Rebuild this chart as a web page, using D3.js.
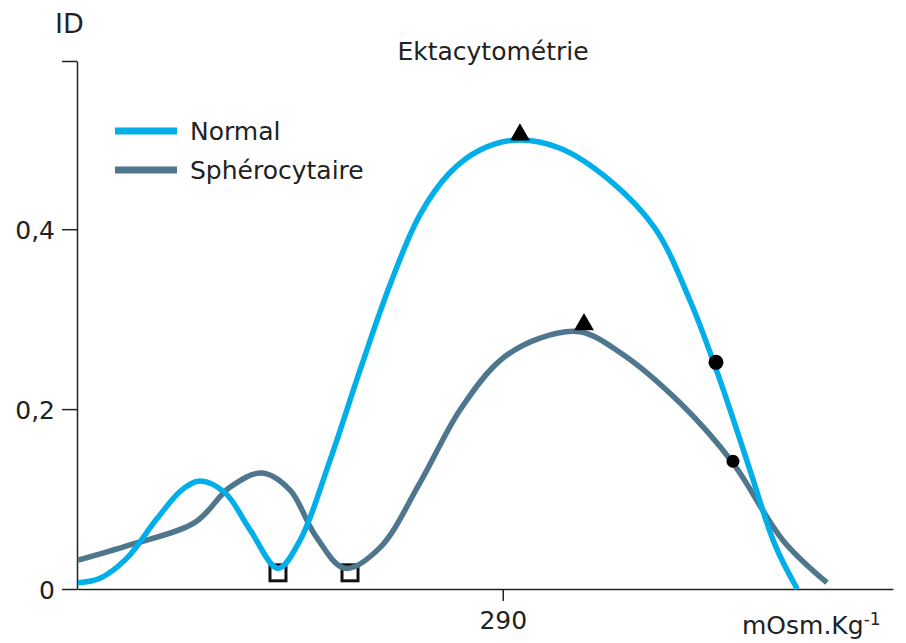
<!DOCTYPE html>
<html>
<head>
<meta charset="utf-8">
<script src="https://cdn.jsdelivr.net/npm/d3@7"></script>
<style>
  body { margin: 0; background: #fff; }
  text { font-family: "DejaVu Sans", sans-serif; fill: #222; }
</style>
</head>
<body>
<div id="chart"></div>
<script>
// data (x in mOsm/kg, y = ID)
var normalX = [50.6, 63, 78, 95, 109, 119.3, 133.4, 147.5, 163.3, 175.7, 192.6, 209.5, 226.4, 243.3, 260.3, 277.2, 296.9, 322.3, 350.5, 375.8, 395.5, 412.5, 429.4, 443.5, 456];
var normalY = [0.007, 0.012, 0.034, 0.078, 0.11, 0.12, 0.107, 0.066, 0.023, 0.054, 0.143, 0.243, 0.338, 0.416, 0.463, 0.488, 0.499, 0.49, 0.454, 0.401, 0.321, 0.232, 0.132, 0.049, 0];

var spheroX = [50.6, 79.9, 116.5, 136.2, 154.3, 170.1, 184.2, 201.1, 220.8, 243.3, 265.9, 288.4, 311, 333.5, 356.1, 389.9, 419.8, 448, 472.8];
var spheroY = [0.032, 0.049, 0.074, 0.113, 0.129, 0.11, 0.06, 0.023, 0.046, 0.118, 0.199, 0.254, 0.279, 0.286, 0.263, 0.207, 0.14, 0.054, 0.007];

// markers
var squareX = [163.3, 203.9], squareY = [0.018, 0.018];
var triX = [299.7, 335.8], triY = [0.505, 0.294];
var dotX = [410.2, 419.8], dotY = [0.252, 0.142], dotR = [7.5, 6.5];

var yTicks = [0, 0.2, 0.4];
var xTicks = [290];
var seriesNames = ["Normal", "Sphérocytaire"];
var colors = ["#00aeea", "#4e768c"];

var width = 906, height = 643;

var svg = d3.select("#chart")
    .append("svg")
    .attr("width", width)
    .attr("height", height);

var x = d3.scaleLinear().domain([50, 510]).range([77, 893]);
var y = d3.scaleLinear().domain([0, 0.587]).range([589, 61]);

var fmt = function(d){ return d === 0 ? "0" : String(d).replace(".", ","); };

// y axis
var yAxis = svg.append("g")
    .attr("transform", "translate(" + x(50) + ",0)")
    .call(d3.axisLeft(y).tickValues(yTicks.concat([0.587])).tickSize(15).tickSizeOuter(0)
        .tickFormat(function(d){ return d > 0.5 ? "" : fmt(d); }));
yAxis.select(".domain").attr("stroke", "#222").attr("stroke-width", 1.5);
yAxis.selectAll(".tick line").attr("stroke", "#222").attr("stroke-width", 1.5);
yAxis.selectAll(".tick text").attr("x", -22).attr("dy", "0.36em")
    .style("font-size", "25px").style("font-family", "DejaVu Sans");

// x axis
var xAxis = svg.append("g")
    .attr("transform", "translate(0," + y(0) + ")")
    .call(d3.axisBottom(x).tickValues(xTicks).tickSize(12).tickSizeOuter(0));
xAxis.select(".domain").attr("stroke", "#222").attr("stroke-width", 1.5);
xAxis.selectAll(".tick line").attr("stroke", "#222").attr("stroke-width", 1.5);
xAxis.selectAll(".tick text").attr("y", 22).attr("dy", "0.71em")
    .style("font-size", "25px").style("font-family", "DejaVu Sans");

// open squares sit under the curves
svg.selectAll(".sq")
    .data(squareX)
    .enter().append("rect")
    .attr("x", function(d){ return x(d) - 8; })
    .attr("y", function(d, i){ return y(squareY[i]) - 8; })
    .attr("width", 16)
    .attr("height", 16)
    .attr("fill", "#fff")
    .attr("stroke", "#111")
    .attr("stroke-width", 3);

var line = d3.line()
    .x(function(d){ return x(d[0]); })
    .y(function(d){ return y(d[1]); })
    .curve(d3.curveCatmullRom.alpha(0.5));

svg.append("path")
    .datum(d3.zip(spheroX, spheroY))
    .attr("d", line)
    .attr("fill", "none")
    .attr("stroke", colors[1])
    .attr("stroke-width", 5.5);

svg.append("path")
    .datum(d3.zip(normalX, normalY))
    .attr("d", line)
    .attr("fill", "none")
    .attr("stroke", colors[0])
    .attr("stroke-width", 5.5);

// triangles and dots
svg.selectAll(".tri")
    .data(triX)
    .enter().append("path")
    .attr("transform", function(d, i){ return "translate(" + x(d) + "," + y(triY[i]) + ")"; })
    .attr("d", d3.symbol().type(d3.symbolTriangle).size(170))
    .attr("fill", "#000");

svg.selectAll(".dot")
    .data(dotX)
    .enter().append("circle")
    .attr("cx", function(d){ return x(d); })
    .attr("cy", function(d, i){ return y(dotY[i]); })
    .attr("r", function(d, i){ return dotR[i]; })
    .attr("fill", "#000");

// legend
var legend = svg.selectAll(".legend")
    .data(seriesNames)
    .enter().append("g")
    .attr("transform", function(d, i){ return "translate(115," + (131 + i * 39) + ")"; });

legend.append("line")
    .attr("x1", 0).attr("x2", 62)
    .attr("stroke", function(d, i){ return colors[i]; })
    .attr("stroke-width", 7);

legend.append("text")
    .attr("x", 75)
    .attr("y", 9)
    .style("font-size", "25px")
    .text(function(d){ return d; });

// labels
svg.append("text")
    .attr("x", 55).attr("y", 33)
    .style("font-size", "27px")
    .text("ID");

svg.append("text")
    .attr("x", 493).attr("y", 60)
    .attr("text-anchor", "middle")
    .style("font-size", "25px")
    .text("Ektacytométrie");

var unit = svg.append("text")
    .attr("x", 742).attr("y", 634)
    .style("font-size", "25px")
    .text("mOsm.Kg");
unit.append("tspan")
    .attr("dy", -9)
    .style("font-size", "17px")
    .text("-1");
</script>
</body>
</html>
